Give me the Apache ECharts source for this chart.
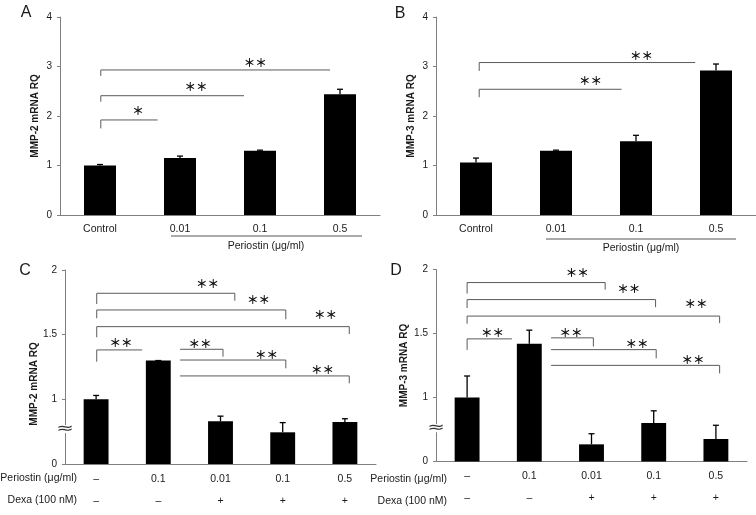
<!DOCTYPE html>
<html><head><meta charset="utf-8">
<script src="https://cdn.jsdelivr.net/npm/echarts@6/dist/echarts.min.js"></script>
<style>html,body{margin:0;padding:0;background:#fff}#c{width:756px;height:515px}</style>
</head><body><div id="c"></div>
<script>
// ---- data ----
const catsAB = ['Control', '0.01', '0.1', '0.5'];
const mmp2A = [1.00, 1.15, 1.30, 2.44];
const mmp2AErr = [1.02, 1.19, 1.31, 2.54];
const mmp3B = [1.06, 1.30, 1.49, 2.92];
const mmp3BErr = [1.15, 1.31, 1.61, 3.05];
const periostinCD = ['\u2013', '0.1', '0.01', '0.1', '0.5'];
const dexaCD = ['\u2013', '\u2013', '+', '+', '+'];
const mmp2C = [1.00, 1.30, 0.83, 0.745, 0.825];
const mmp2CErr = [1.03, 1.30, 0.87, 0.82, 0.85];
const mmp3D = [1.00, 1.42, 0.634, 0.80, 0.676];
const mmp3DErr = [1.168, 1.526, 0.717, 0.896, 0.783];
const yTicksAB = [0, 1, 2, 3, 4];
const yTicksCD = [0.5, 1, 1.5, 2];
const yTickLabelsCD = ['0', '1', '1.5', '2'];
// significance brackets: [x start, y left foot, y bar, x end, y right foot]
const bracketsA = [[0.01, 1.75, 1.92, 0.72, null], [0.01, 2.29, 2.41, 1.80, null], [0.01, 2.81, 2.93, 2.875, null]];
const starsA = [[0.475, 2.10, '\uFF0A'], [1.20, 2.59, '\uFF0A\uFF0A'], [1.94, 3.07, '\uFF0A\uFF0A']];
const bracketsB = [[0.04, 2.38, 2.54, 1.82, null], [0.04, 2.91, 3.08, 2.74, null]];
const starsB = [[1.43, 2.71, '\uFF0A\uFF0A'], [2.07, 3.21, '\uFF0A\uFF0A']];
const bracketsC = [
  [0.01, 1.737, 1.820, 2.23, 1.763], [0.01, 1.627, 1.691, 3.05, 1.619], [0.01, 1.480, 1.562, 4.07, 1.505],
  [0.01, 1.291, 1.382, 0.74, null], [1.35, 1.387, 1.387, 2.04, 1.330], [1.35, 1.304, 1.304, 3.05, 1.240],
  [1.35, 1.181, 1.181, 4.07, 1.124]];
const starsC = [[1.79, 1.892, '\uFF0A\uFF0A'], [2.61, 1.774, '\uFF0A\uFF0A'], [3.69, 1.658, '\uFF0A\uFF0A'],
  [0.40, 1.438, '\uFF0A\uFF0A'], [1.67, 1.433, '\uFF0A\uFF0A'], [2.74, 1.348, '\uFF0A\uFF0A'], [3.64, 1.227, '\uFF0A\uFF0A']];
const bracketsD = [
  [0.0, 1.812, 1.898, 2.22, 1.843], [0.0, 1.699, 1.765, 3.03, 1.706], [0.0, 1.576, 1.636, 4.06, 1.581],
  [0.0, 1.372, 1.458, 0.72, null], [1.35, 1.466, 1.466, 2.03, 1.398], [1.35, 1.374, 1.374, 3.04, 1.306],
  [1.35, 1.251, 1.251, 4.06, 1.188]];
const starsD = [[1.77, 1.976, '\uFF0A\uFF0A'], [2.60, 1.853, '\uFF0A\uFF0A'], [3.68, 1.733, '\uFF0A\uFF0A'],
  [0.41, 1.51, '\uFF0A\uFF0A'], [1.67, 1.51, '\uFF0A\uFF0A'], [2.73, 1.419, '\uFF0A\uFF0A'], [3.63, 1.296, '\uFF0A\uFF0A']];

// ---- chart ----
const FONT = 'Liberation Sans';
const AX = '#808080';
const TXT = '#1a1a1a';
const chart = echarts.init(document.getElementById('c'), null, {renderer: 'canvas'});

const panels = [
  {grid: {left: 60, top: 17, width: 320, height: 198}, cats: catsAB, vals: mmp2A, errs: mmp2AErr,
   yMin: 0, yMax: 4, yInt: 1, labels: null, name: 'MMP-2 mRNA RQ', nameGap: 20, namePad: [0, 0, 0, 0],
   brackets: bracketsA, stars: starsA, twoRow: false},
  {grid: {left: 436, top: 17, width: 320, height: 198}, cats: catsAB, vals: mmp3B, errs: mmp3BErr,
   yMin: 0, yMax: 4, yInt: 1, labels: null, name: 'MMP-3 mRNA RQ', nameGap: 20, namePad: [0, 0, 0, 0],
   brackets: bracketsB, stars: starsB, twoRow: false},
  {grid: {left: 65, top: 270, width: 311, height: 194}, cats: periostinCD.map((p, i) => p + '\n' + dexaCD[i]),
   vals: mmp2C, errs: mmp2CErr, yMin: 0.5, yMax: 2, yInt: 0.5, labels: yTickLabelsCD, name: 'MMP-2 mRNA RQ',
   nameGap: 21, namePad: [0, 34, 0, 0], brackets: bracketsC, stars: starsC, twoRow: true},
  {grid: {left: 436, top: 269.5, width: 311, height: 192}, cats: periostinCD.map((p, i) => p + '\n' + dexaCD[i]),
   vals: mmp3D, errs: mmp3DErr, yMin: 0.5, yMax: 2, yInt: 0.5, labels: yTickLabelsCD, name: 'MMP-3 mRNA RQ',
   nameGap: 27, namePad: [0, 0, 0, 0], brackets: bracketsD, stars: starsD, twoRow: true}
];

const grid = [], xAxis = [], yAxis = [], series = [];
panels.forEach((p, gi) => {
  grid.push(p.grid);
  const n = p.cats.length;
  xAxis.push({
    type: 'category', gridIndex: gi, data: p.cats, boundaryGap: true,
    axisLine: {onZero: false, lineStyle: {color: AX, width: 1}}, axisTick: {show: false},
    axisLabel: p.twoRow
      ? {color: TXT, fontFamily: FONT, fontSize: 10.5, lineHeight: 22, margin: 4, interval: 0, verticalAlign: 'top'}
      : {color: TXT, fontFamily: FONT, fontSize: 10.5, margin: 9, interval: 0}
  });
  xAxis.push({type: 'value', gridIndex: gi, min: -0.5, max: n - 0.5, show: false});
  yAxis.push({
    type: 'value', gridIndex: gi, min: p.yMin, max: p.yMax, interval: p.yInt,
    name: p.name, nameLocation: 'middle', nameGap: p.nameGap,
    nameTextStyle: {fontFamily: FONT, fontSize: 10, fontWeight: 'bold', color: TXT, padding: p.namePad},
    splitLine: {show: false},
    axisLine: {show: true, onZero: false, lineStyle: {color: AX, width: 1}},
    axisTick: {show: true, length: 3, lineStyle: {color: AX}},
    axisLabel: {color: TXT, fontFamily: FONT, fontSize: 10, margin: 8,
      formatter: p.labels ? (v) => { const k = yTicksCD.indexOf(v); return k >= 0 ? p.labels[k] : ''; } : (v) => String(v)}
  });
  series.push({
    type: 'bar', xAxisIndex: gi * 2, yAxisIndex: gi, data: p.vals, barWidth: '40%',
    itemStyle: {color: '#000'}, silent: true
  });
  series.push({
    type: 'custom', xAxisIndex: gi * 2, yAxisIndex: gi, silent: true,
    data: p.vals.map((v, i) => [i, v, p.errs[i]]),
    renderItem: (params, api) => {
      const b = api.coord([api.value(0), api.value(1)]);
      const t = api.coord([api.value(0), api.value(2)]);
      return {type: 'group', children: [
        {type: 'line', shape: {x1: b[0], y1: b[1], x2: t[0], y2: t[1]}, style: {stroke: '#000', lineWidth: 1.3}},
        {type: 'line', shape: {x1: t[0] - 3, y1: t[1], x2: t[0] + 3, y2: t[1]}, style: {stroke: '#000', lineWidth: 1.3}}
      ]};
    }
  });
  series.push({
    type: 'custom', xAxisIndex: gi * 2 + 1, yAxisIndex: gi, silent: true,
    data: p.brackets.map((b) => [b[0], b[1], b[2], b[3], b[4] == null ? b[2] : b[4]]),
    renderItem: (params, api) => {
      const pts = [
        api.coord([api.value(0), api.value(1)]),
        api.coord([api.value(0), api.value(2)]),
        api.coord([api.value(3), api.value(2)]),
        api.coord([api.value(3), api.value(4)])
      ];
      return {type: 'polyline', shape: {points: pts}, style: {stroke: '#5a5a5a', lineWidth: 1, fill: null}};
    }
  });
  series.push({
    type: 'custom', xAxisIndex: gi * 2 + 1, yAxisIndex: gi, silent: true,
    data: p.stars.map((s) => [s[0], s[1]]),
    renderItem: (params, api) => {
      const c = api.coord([api.value(0), api.value(1)]);
      return {type: 'text', x: c[0], y: c[1], style: {text: p.stars[params.dataIndex][2],
        fontFamily: 'Noto Sans CJK JP', fontSize: 11.5, fontWeight: 'bold', fill: '#111', align: 'center', verticalAlign: 'middle'}};
    }
  });
});

const lab = (text, x, y, opts) => Object.assign({type: 'text', x: x, y: y, style: Object.assign({text: text,
  fontFamily: FONT, fontSize: 10.5, fill: TXT, align: 'center', verticalAlign: 'middle'}, opts || {})});

chart.setOption({
  animation: false,
  grid: grid, xAxis: xAxis, yAxis: yAxis, series: series
});

// axis-break marks placed through the axes' own scales
function breakMark(gi, val) {
  const pt = chart.convertToPixel({xAxisIndex: gi * 2 + 1, yAxisIndex: gi}, [-0.5, val]);
  return [
    {type: 'rect', shape: {x: pt[0] - 2, y: pt[1] - 4, width: 4, height: 8}, style: {fill: '#fff'}, z: 100},
    {type: 'text', x: pt[0], y: pt[1], scaleX: 1.4, z: 101, style: {text: '\u2248', fontFamily: 'DejaVu Sans',
      fontSize: 15, fill: '#333', align: 'center', verticalAlign: 'middle'}}
  ];
}

chart.setOption({graphic: [
    lab('A', 26, 13, {fontSize: 16}),
    lab('B', 400, 14, {fontSize: 16}),
    lab('C', 25, 271, {fontSize: 16}),
    lab('D', 396, 271, {fontSize: 16}),
    {type: 'line', shape: {x1: 171, y1: 236, x2: 362, y2: 236}, style: {stroke: '#555', lineWidth: 1}},
    lab('Periostin (\u03BCg/ml)', 266, 246),
    {type: 'line', shape: {x1: 546, y1: 239, x2: 736, y2: 239}, style: {stroke: '#555', lineWidth: 1}},
    lab('Periostin (\u03BCg/ml)', 641, 248.5),
    lab('Periostin (\u03BCg/ml)', 77, 478.5, {align: 'right'}),
    lab('Dexa (100 nM)', 77, 500, {align: 'right'}),
    lab('Periostin (\u03BCg/ml)', 447, 479.5, {align: 'right'}),
    lab('Dexa (100 nM)', 447, 501, {align: 'right'})
  ].concat(breakMark(2, 0.77)).concat(breakMark(3, 0.76))});
</script>
</body></html>
